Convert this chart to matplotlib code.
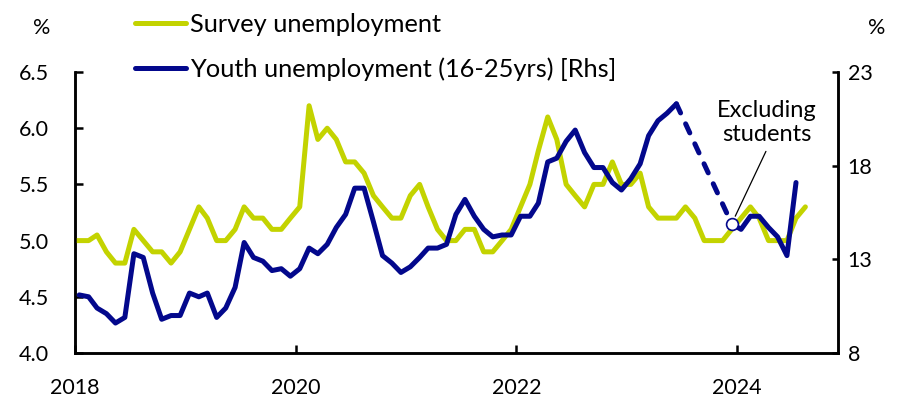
import numpy as np
import pandas as pd
import matplotlib
matplotlib.use("Agg")
import matplotlib.pyplot as plt
import matplotlib.dates as mdates

plt.rcParams["font.family"] = ["Lato", "DejaVu Sans"]

YELLOW = "#C3D300"
BLUE = "#03088C"

# Surveyed urban unemployment rate, %, monthly from Dec 2017
survey_start = "2017-12-01"
survey = [5.0,
          5.0, 5.0, 5.05, 4.9, 4.8, 4.8, 5.1, 5.0, 4.9, 4.9, 4.8, 4.9,   # 2018
          5.1, 5.3, 5.2, 5.0, 5.0, 5.1, 5.3, 5.2, 5.2, 5.1, 5.1, 5.2,    # 2019
          5.3, 6.2, 5.9, 6.0, 5.9, 5.7, 5.7, 5.6, 5.4, 5.3, 5.2, 5.2,    # 2020
          5.4, 5.5, 5.3, 5.1, 5.0, 5.0, 5.1, 5.1, 4.9, 4.9, 5.0, 5.1,    # 2021
          5.3, 5.5, 5.8, 6.1, 5.9, 5.5, 5.4, 5.3, 5.5, 5.5, 5.7, 5.5,    # 2022
          5.5, 5.6, 5.3, 5.2, 5.2, 5.2, 5.3, 5.2, 5.0, 5.0, 5.0, 5.1,    # 2023
          5.2, 5.3, 5.2, 5.0, 5.0, 5.0, 5.2, 5.3]                        # 2024

# Youth unemployment rate, %, monthly from Jan 2018 (not published Jul-Nov 2023)
youth_start = "2018-01-01"
youth = [11.1, 11.0, 10.4, 10.1, 9.6, 9.9, 13.3, 13.1, 11.2, 9.8, 10.0, 10.0,     # 2018
         11.2, 11.0, 11.2, 9.9, 10.4, 11.5, 13.9, 13.1, 12.9, 12.4, 12.5, 12.1,   # 2019
         12.5, 13.6, 13.3, 13.8, 14.7, 15.4, 16.8, 16.8, 15.0, 13.2, 12.8, 12.3,  # 2020
         12.6, 13.1, 13.6, 13.6, 13.8, 15.4, 16.2, 15.3, 14.6, 14.2, 14.3, 14.3,  # 2021
         15.3, 15.3, 16.0, 18.2, 18.4, 19.3, 19.9, 18.7, 17.9, 17.9, 17.1, 16.7,  # 2022
         17.3, 18.1, 19.6, 20.4, 20.8, 21.3, np.nan, np.nan, np.nan, np.nan, np.nan, 14.9,  # 2023
         14.6, 15.3, 15.3, 14.7, 14.2, 13.2, 17.1]                                # 2024

year_ticks = ["2018", "2020", "2022", "2024"]
left_ticks = [4.0, 4.5, 5.0, 5.5, 6.0, 6.5]
right_ticks = [8, 13, 18, 23]

survey_label = "Survey unemployment"
youth_label = "Youth unemployment (16-25yrs) [Rhs]"
note_label = "Excluding\nstudents"

# monthly observations plotted mid-month
mid = pd.Timedelta(days=14)
survey_dates = pd.date_range(survey_start, periods=len(survey), freq="MS") + mid
youth_dates = pd.date_range(youth_start, periods=len(youth), freq="MS") + mid
youth_arr = np.array(youth, dtype=float)

fig = plt.figure(figsize=(9.01, 4.0), dpi=100)
ax = fig.add_axes([75 / 901, 47 / 400, 763 / 901, 281 / 400])
ax2 = ax.twinx()

LW = 3.6
l1, = ax.plot(survey_dates, survey, color=YELLOW, lw=LW,
              solid_joinstyle="round", solid_capstyle="round", zorder=3)
l2, = ax2.plot(youth_dates, youth_arr, color=BLUE, lw=LW,
               solid_joinstyle="round", solid_capstyle="round", zorder=3)

# dashed bridge across the unpublished months
gap = np.flatnonzero(np.isnan(youth_arr))
i0, i1 = gap[0] - 1, gap[-1] + 1
ax2.plot(youth_dates[[i0, i1]], youth_arr[[i0, i1]], color=BLUE, lw=LW,
         dashes=(2.0, 2.4), dash_capstyle="round", zorder=3)
ax2.plot([youth_dates[i1]], [youth_arr[i1]], marker="o", ms=8.5,
         mfc="white", mec=BLUE, mew=1.2, zorder=5, clip_on=False)

ax2.annotate(note_label, xy=(youth_dates[i1], youth_arr[i1]),
             xytext=(pd.Timestamp("2024-04-10"), 20.3),
             ha="center", va="center", fontsize=17, linespacing=1.15,
             arrowprops=dict(arrowstyle="-", color="black", lw=0.9,
                             relpos=(0.52, 0.0), shrinkA=3, shrinkB=6))

# axes ranges and ticks
ax.set_xlim(pd.Timestamp("2018-01-01"), pd.Timestamp("2024-12-01"))
ax.set_ylim(left_ticks[0], left_ticks[-1])
ax2.set_ylim(right_ticks[0], right_ticks[-1])
ax.set_xticks([pd.Timestamp(f"{y}-01-01") for y in year_ticks])
ax.set_xticklabels(year_ticks)
ax.set_yticks(left_ticks)
ax.set_yticklabels([f"{v:.1f}" for v in left_ticks])
ax2.set_yticks(right_ticks)
ax2.set_yticklabels([str(v) for v in right_ticks])

for a in (ax, ax2):
    a.spines["top"].set_visible(False)
    for s in ("left", "right", "bottom"):
        a.spines[s].set_linewidth(1.8)
        a.spines[s].set_color("black")
    a.set_facecolor("none")

TICK_FS = 15.5
ax.tick_params(axis="y", direction="in", length=6, width=1.8, pad=19,
               labelsize=TICK_FS, colors="black")
ax.tick_params(axis="x", direction="in", length=6, width=1.8, pad=18,
               labelsize=TICK_FS, colors="black")
ax2.tick_params(axis="y", direction="in", length=4, width=1.8, pad=7,
                labelsize=TICK_FS, colors="black")

fig.text(42 / 901, 1 - 28 / 400, "%", ha="center", va="center", fontsize=TICK_FS)
fig.text(877 / 901, 1 - 28 / 400, "%", ha="center", va="center", fontsize=TICK_FS)

leg = ax2.legend([l1, l2], [survey_label, youth_label], loc="upper left",
                 bbox_to_anchor=(135 / 901, 1 - 13 / 400),
                 bbox_transform=fig.transFigure, frameon=False, fontsize=18.3,
                 handlelength=2.02, handletextpad=0.15, labelspacing=0.84,
                 borderpad=0, borderaxespad=0)

fig.savefig("out.png", dpi=100)
